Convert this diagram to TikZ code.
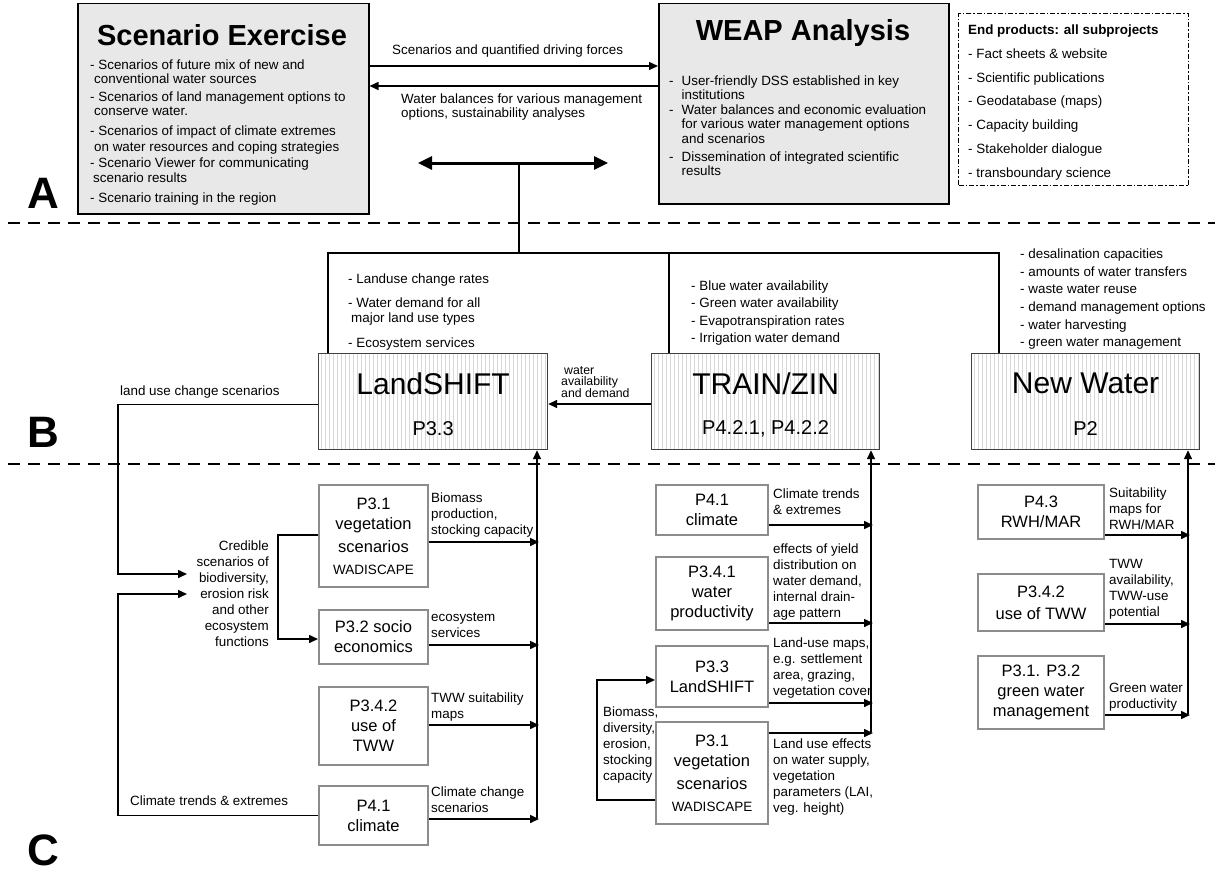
\documentclass[tikz,border=0pt]{standalone}
\usepackage{fontspec}
\setmainfont{Liberation Sans}
\usetikzlibrary{arrows.meta}
\definecolor{boxgray}{HTML}{E8E8E8}
\definecolor{pgray}{HTML}{8C8C8C}
\newcommand{\setfs}[2]{\fontsize{#1}{#2}\selectfont}
\begin{document}
\begin{tikzpicture}[x=1pt,y=-1pt,
  graybox/.style={draw=black, line width=1.5pt, fill=boxgray, inner sep=0pt, anchor=north west},
  stripebox/.style={draw=black!75, line width=1.2pt, fill=white, inner sep=0pt, anchor=north west,
    path picture={\foreach \i in {3,7,...,230}{\draw[gray!30, line width=0.5pt] ([xshift=\i pt]path picture bounding box.south west) -- ([xshift=\i pt]path picture bounding box.north west);}}},
  pbox/.style={draw=pgray, line width=2pt, fill=white, inner sep=0pt, anchor=north west, align=center, font=\setfs{16.5}{20}},
  lbl/.style={inner sep=0pt, anchor=north west, align=left, font=\setfs{13.4}{16}},
  arr/.style={line width=1.5pt, -{Triangle[length=9pt,width=8pt]}},
  conn/.style={line width=1.3pt},
  sepline/.style={line width=2.5pt, dash pattern=on 12pt off 8pt},
  letter/.style={inner sep=0pt, font=\bfseries\setfs{44}{44}},
  endbox/.style={draw=black, line width=1.1pt, dash pattern=on 5pt off 2pt on 1.5pt off 2pt, inner sep=0pt, anchor=north west}
]
\useasboundingbox (0,0) rectangle (1223,875);

% separators
\coordinate (s1l) at (8,223); \coordinate (s1r) at (1215,223);
\coordinate (s2l) at (8,464); \coordinate (s2r) at (1215,464);
\draw[sepline] (s1l) -- (s1r);
\draw[sepline] (s2l) -- (s2r);

% letters
\node[letter] (la) at (43,193) {A};
\node[letter] (lb) at (43,432) {B};
\node[letter] (lc) at (43,850) {C};

% ===== A =====
\node[graybox, minimum width=291pt, minimum height=210pt] (se) at (77,3) {};
\node[inner sep=0pt, font=\bfseries\setfs{29}{30}] (set) at (222,35) {Scenario Exercise};
\node[lbl, font=\setfs{13.4}{14.5}] (seb1) at (90,59.5) {- Scenarios of future mix of new and\\\hspace*{4pt}conventional water sources};
\node[lbl, font=\setfs{13.4}{14.5}] (seb2) at (90,91.5) {- Scenarios of land management options to\\\hspace*{4pt}conserve water.};
\node[lbl, font=\setfs{13.4}{16}] (seb3) at (90,125.5) {- Scenarios of impact of climate extremes\\\hspace*{4pt}on water resources and coping strategies};
\node[lbl, font=\setfs{13.4}{15.5}] (seb4) at (90,157.5) {- Scenario Viewer for communicating\\\hspace*{3pt}scenario results};
\node[lbl, font=\setfs{13.4}{14.5}] (seb5) at (90,192.5) {- Scenario training in the region};

\node[graybox, minimum width=290pt, minimum height=200pt] (weap) at (658,3) {};
\node[inner sep=0pt, font=\bfseries\setfs{29}{30}] (weapt) at (803,33) {WEAP Analysis};
\node[lbl, font=\setfs{13.4}{14.5}] (wb1) at (669,75.5) {-\hspace{8pt}User-friendly DSS established in key\\\hspace*{12.4pt}institutions};
\node[lbl, font=\setfs{13.4}{14.5}] (wb2) at (669,104.5) {-\hspace{8pt}Water balances and economic evaluation\\\hspace*{12.4pt}for various water management options\\\hspace*{12.4pt}and scenarios};
\node[lbl, font=\setfs{13.4}{14.5}] (wb3) at (669,151.5) {-\hspace{8pt}Dissemination of integrated scientific\\\hspace*{12.4pt}results};

\node[endbox, minimum width=230pt, minimum height=172pt] (ep) at (958,13) {};
\node[lbl, font=\setfs{13.4}{23.8}] (ept) at (968,24.5) {\textbf{End products: all subprojects}\\- Fact sheets \& website\\- Scientific publications\\- Geodatabase (maps)\\- Capacity building\\- Stakeholder dialogue\\- transboundary science};

\node[lbl] (t1) at (392,44.5) {Scenarios and quantified driving forces};
\node[lbl, font=\setfs{13.4}{14}] (t2) at (401,93.5) {Water balances for various management\\options, sustainability analyses};
\draw[arr] (se.east |- 0,66) -- (weap.west |- 0,66);
\draw[arr] (weap.west |- 0,86) -- (se.east |- 0,86);

\coordinate (dl) at (418,163); \coordinate (dr) at (608,163); \coordinate (dm) at (519,163);
\draw[line width=3pt, {Triangle[length=14pt,width=13pt]}-{Triangle[length=14pt,width=13pt]}] (dl) -- (dr);

% ===== B =====
\node[stripebox, minimum width=229pt, minimum height=96pt] (ls) at (318,353) {};
\node[stripebox, minimum width=228pt, minimum height=96pt] (tz) at (651,353) {};
\node[stripebox, minimum width=228pt, minimum height=96pt] (nw) at (971,353) {};
\node[inner sep=0pt, font=\setfs{30}{30}] (lst) at ([yshift=18pt]ls.center) {LandSHIFT};
\node[inner sep=0pt, font=\setfs{20}{20}] (lsp) at ([yshift=-27pt]ls.center) {P3.3};
\node[inner sep=0pt, font=\setfs{30}{30}] (tzt) at ([yshift=18pt]tz.center) {TRAIN/ZIN};
\node[inner sep=0pt, font=\setfs{20}{20}] (tzp) at ([yshift=-27pt]tz.center) {P4.2.1, P4.2.2};
\node[inner sep=0pt, font=\setfs{30}{30}] (nwt) at ([yshift=18pt]nw.center) {New Water};
\node[inner sep=0pt, font=\setfs{20}{20}] (nwp) at ([yshift=-27pt]nw.center) {P2};

\coordinate (jl) at (328,253); \coordinate (jm) at (669,253); \coordinate (jr) at (999,253);
\draw[conn] (dm) -- (dm |- jl);
\draw[conn] (jl |- ls.north) -- (jl) -- (jr) -- (jr |- nw.north);
\draw[conn] (jm) -- (jm |- tz.north);

\node[lbl, font=\setfs{13.4}{15}] (lsb1) at (348,273.5) {- Landuse change rates};
\node[lbl, font=\setfs{13.4}{15}] (lsb2) at (348,297.5) {- Water demand for all\\\hspace*{3pt}major land use types};
\node[lbl, font=\setfs{13.4}{15}] (lsb3) at (348,337.5) {- Ecosystem services};
\node[lbl, font=\setfs{13.4}{17.3}] (tzb) at (691,280.5) {- Blue water availability\\- Green water availability\\- Evapotranspiration rates\\- Irrigation water demand};
\node[lbl, font=\setfs{13.4}{17.7}] (nwb) at (1020,248.5) {- desalination capacities\\- amounts of water transfers\\- waste water reuse\\- demand management options\\- water harvesting\\- green water management};

\node[lbl, font=\setfs{12.3}{11.3}] (wad) at (561,366) {\hspace*{3pt}water\\availability\\and demand};
\draw[arr] (tz.west |- 0,404) -- (ls.east |- 0,404);

\node[lbl] (lucs) at (120,385.5) {land use change scenarios};

% ===== C left =====
\node[pbox, minimum width=109pt, minimum height=102pt] (p31a) at (318,484) {P3.1\\vegetation\\[3pt]scenarios\\[2pt]{\setfs{13.5}{20}WADISCAPE}};
\node[pbox, minimum width=109pt, minimum height=54pt] (p32) at (318,609) {P3.2 socio\\economics};
\node[pbox, minimum width=109pt, minimum height=78pt] (p342a) at (318,686) {P3.4.2\\use of\\TWW};
\node[pbox, minimum width=109pt, minimum height=59pt] (p41a) at (318,785) {P4.1\\climate};

\node[lbl, align=right, anchor=north east] (cred) at (269,540.5) {Credible\\scenarios of\\biodiversity,\\erosion risk\\and other\\ecosystem\\functions};
\coordinate (c1) at (187,574); \coordinate (c2) at (187,594);
\draw[arr] ([yshift=-3pt]ls.west) -| (c1 -| 118,0) -- (c1);
\draw[arr] (p41a.west) -| (c2 -| 118,0) -- (c2);
\node[lbl] (cte) at (130,795.5) {Climate trends \& extremes};
\draw[arr] ([yshift=1pt]p31a.west) -| ([yshift=-2pt,xshift=-40pt]p32.west) -- ([yshift=-2pt]p32.west);

\node[lbl] (lb1) at (431,492.5) {Biomass\\production,\\stocking capacity};
\node[lbl] (lb2) at (431,612.5) {ecosystem\\services};
\node[lbl] (lb3) at (431,692.5) {TWW suitability\\maps};
\node[lbl] (lb4) at (431,786.5) {Climate change\\scenarios};
\draw[arr] ([yshift=-6pt]p31a.east) -- ++(110,0);
\draw[arr] ([yshift=-8pt]p32.east) -- ++(110,0);
\draw[arr] ([yshift=1pt]p342a.east) -- ++(110,0);
\draw[arr] ([yshift=-3.5pt]p41a.east) -- ++(110,0);
\coordinate (lvb) at (537,818);
\draw[arr] (lvb) -- (lvb |- ls.south);

% ===== C middle =====
\node[pbox, minimum width=112pt, minimum height=50pt] (p41m) at (655,484) {P4.1\\climate};
\node[pbox, minimum width=112pt, minimum height=73pt] (p341) at (655,556) {P3.4.1\\water\\productivity};
\node[pbox, minimum width=112pt, minimum height=61pt] (p33) at (655,645) {P3.3\\LandSHIFT};
\node[pbox, minimum width=112pt, minimum height=102pt] (p31m) at (655,721) {P3.1\\vegetation\\[3pt]scenarios\\[2pt]{\setfs{13.5}{20}WADISCAPE}};

\node[lbl] (mb1) at (773,488.5) {Climate trends\\\& extremes};
\node[lbl] (mb2) at (773,543.5) {effects of yield\\distribution on\\water demand,\\internal drain-\\age pattern};
\node[lbl] (mb3) at (773,637.5) {Land-use maps,\\e.g. settlement\\area, grazing,\\vegetation cover};
\node[lbl] (mb4) at (773,738.5) {Land use effects\\on water supply,\\vegetation\\parameters (LAI,\\veg. height)};
\node[lbl] (mb5) at (603,706.5) {Biomass,\\diversity,\\erosion,\\stocking\\capacity};
\draw[arr] ([yshift=-15pt]p41m.east) -- ++(104,0);
\draw[arr] ([yshift=-29.5pt]p341.east) -- ++(104,0);
\draw[arr] ([yshift=-26.5pt]p33.east) -- ++(104,0);
\draw[arr] ([yshift=40pt]p31m.east) -- ++(104,0);
\coordinate (mvb) at (871,732);
\draw[arr] (mvb) -- (mvb |- tz.south);
\draw[arr] ([yshift=-27pt]p31m.west) -| ([yshift=-3.5pt,xshift=-58pt]p33.west) -- ([yshift=-3.5pt]p33.west);

% ===== C right =====
\node[pbox, minimum width=126pt, minimum height=54pt] (p43) at (977,484) {P4.3\\RWH/MAR};
\node[pbox, minimum width=126pt, minimum height=57pt] (p342r) at (977,573) {P3.4.2\\[2pt]use of TWW};
\node[pbox, minimum width=126pt, minimum height=73pt] (p3132) at (977,655) {P3.1. P3.2\\green water\\management};
\node[lbl] (rb1) at (1109,487.5) {Suitability\\maps for\\RWH/MAR};
\node[lbl] (rb2) at (1109,559.5) {TWW\\availability,\\TWW-use\\potential};
\node[lbl] (rb3) at (1109,682.5) {Green water\\productivity};
\draw[arr] ([yshift=-23pt]p43.east) -- ++(85,0);
\draw[arr] ([yshift=-21.5pt]p342r.east) -- ++(85,0);
\draw[arr] ([yshift=-22.5pt]p3132.east) -- ++(85,0);
\coordinate (rvb) at (1188,714);
\draw[arr] (rvb) -- (rvb |- nw.south);
\end{tikzpicture}
\end{document}
